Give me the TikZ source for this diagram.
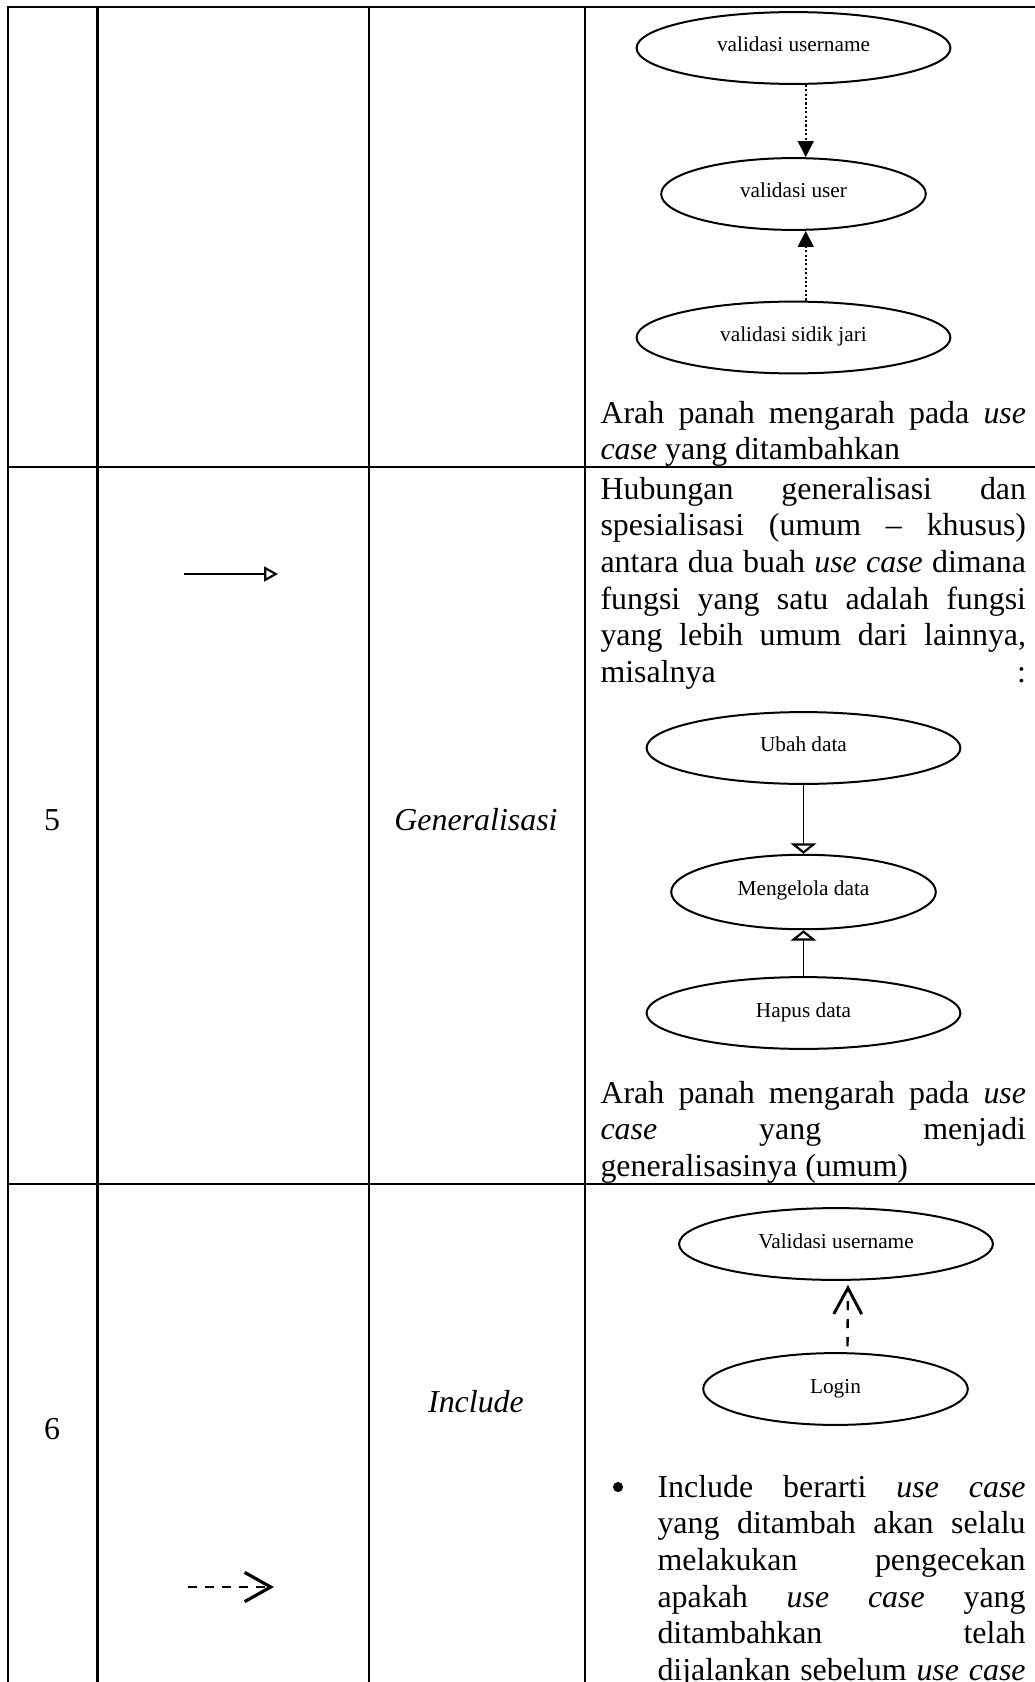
\documentclass[tikz,border=0pt]{standalone}
\usepackage{fontspec}
\setmainfont{Liberation Serif}
\usetikzlibrary{shapes.geometric,arrows.meta}

\newcommand{\keterangan}[2]{\parbox[t]{#1}{\fontsize{12}{13.8}\selectfont\hyphenpenalty=10000\tolerance=10000\hbadness=10000 #2}}

\begin{document}
\begin{tikzpicture}[x=0.376pt, y=-0.376pt,
    garis/.style={line width=0.9pt},
    usecase/.style={draw, ellipse, line width=0.75pt, inner sep=0pt, minimum width=118pt, minimum height=27pt,
        font=\fontsize{8}{9.6}\selectfont, text height=0.4em, text depth=0.1em},
    usecasekecil/.style={usecase, minimum width=99.5pt},
    isi/.style={inner sep=0pt, font=\fontsize{12}{13.8}\selectfont},
    teks/.style={inner sep=0pt, anchor=base west},
    titik/.style={line width=0.8pt, dash pattern=on 0.8pt off 0.85pt},
    putus/.style={line width=0.9pt, dash pattern=on 3.4pt off 3pt}]

    \useasboundingbox (0, 0) rectangle (1035, 1682);
    \fill[white] (0, 0) rectangle (1035, 1682);
    \clip (0, 0) rectangle (1035, 1682);

    % garis tabel
    \draw[garis] (8, 1682) -- (8, 7.3) -- (1035, 7.3);
    \draw[garis] (8, 467) -- (1035, 467);
    \draw[garis] (8, 1184) -- (1035, 1184);
    \foreach \x in {97.5, 369, 585}
        \draw[garis] (\x, 7.3) -- (\x, 1682);

    % baris lanjutan (extend)
    \node[usecase] (vu) at (793.5, 48) {validasi username};
    \node[usecasekecil] (vus) at (793.5, 194) {validasi user};
    \node[usecase] (vsj) at (793.5, 337.5) {validasi sidik jari};
    \draw[titik, -{Triangle[length=6pt, width=5.9pt]}] ([xshift=4.6pt]vu.south) -- ([xshift=4.6pt]vus.north);
    \draw[titik, -{Triangle[length=6pt, width=5.9pt]}] ([xshift=4.6pt]vsj.north) -- ([xshift=4.6pt]vus.south);
    \node[teks] (ket4) at (600, 423) {\keterangan{160pt}{Arah panah mengarah pada \textit{use}\linebreak \textit{case} yang ditambahkan}};

    % baris 5
    \node[isi] (no5) at (52, 820) {5};
    \coordinate (g1) at (184, 574);
    \coordinate (g2) at (278, 574);
    \draw[line width=0.65pt, -{Triangle[open, length=5.2pt, width=5.6pt, line width=0.8pt]}] (g1) -- (g2);
    \node[isi] (gen) at (476, 820) {\textit{Generalisasi}};
    \node[teks] (ket5a) at (600, 499) {\keterangan{160pt}{Hubungan generalisasi dan\linebreak
        spesialisasi (umum – khusus)\linebreak
        antara dua buah \textit{use case} dimana\linebreak
        fungsi yang satu adalah fungsi\linebreak
        yang lebih umum dari lainnya,\linebreak
        misalnya\hfill:}};
    \node[usecase] (ubah) at (803.5, 748) {Ubah data};
    \node[usecasekecil, minimum height=28pt] (kelola) at (803.5, 892) {Mengelola data};
    \node[usecase] (hapus) at (803.5, 1013) {Hapus data};
    \draw[line width=0.7pt, -{Triangle[open, length=3.9pt, width=9.6pt, line width=0.8pt]}] (ubah) -- (kelola);
    \draw[line width=0.7pt, -{Triangle[open, length=3.9pt, width=9.6pt, line width=0.8pt]}] (hapus) -- (kelola);
    \node[teks] (ket5b) at (600, 1103) {\keterangan{160pt}{Arah panah mengarah pada \textit{use}\linebreak
        \textit{case} yang menjadi\linebreak
        generalisasinya (umum)}};

    % baris 6
    \node[isi] (no6) at (52, 1429) {6};
    \node[isi] (inc) at (476, 1402) {\textit{Include}};
    \coordinate (i1) at (188, 1587);
    \coordinate (i2) at (274, 1587);
    \draw[putus, -{Straight Barb[length=9.8pt, width=11pt, line width=1.2pt]}] (i1) -- (i2);
    \node[usecase] (valu) at (836, 1244) {Validasi username};
    \node[usecasekecil] (login) at (835.5, 1389) {Login};
    \draw[putus, dash pattern=on 3.4pt off 3.4pt, shorten <=2.2pt, shorten >=1.5pt,
        -{Straight Barb[length=9.8pt, width=10.5pt, line width=1.1pt]}] ([xshift=4.5pt]login.north) -- ([xshift=4.5pt]valu.south);
    \node[circle, fill, inner sep=0pt, minimum size=3.8pt] (bul) at (618, 1487) {};
    \node[teks] (ket6) at (657, 1497) {\keterangan{138.4pt}{\parfillskip=0pt
        Include berarti \textit{use case}\linebreak
        yang ditambah akan selalu\linebreak
        melakukan pengecekan\linebreak
        apakah \textit{use case} yang\linebreak
        ditambahkan telah\linebreak
        dijalankan sebelum \textit{use case}}};
\end{tikzpicture}
\end{document}
